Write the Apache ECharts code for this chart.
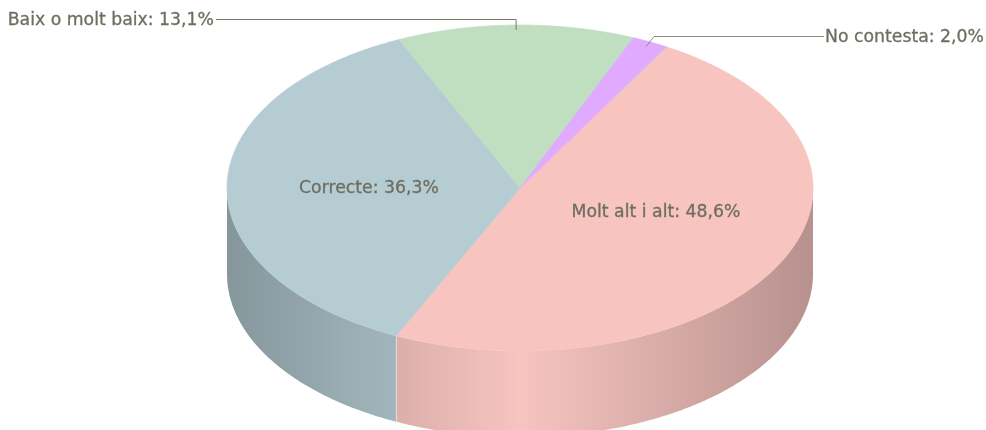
<!DOCTYPE html>
<html lang="ca">
<head>
    <meta charset="UTF-8">
    <title>Pastis 3D</title>
    <script src="https://cdn.jsdelivr.net/npm/echarts@6/dist/echarts.min.js"></script>
    <style>
        html, body { margin: 0; padding: 0; background: #fff; overflow: hidden; }
    </style>
</head>
<body>
<div id="main" style="width: 986px;height:430px;"></div>
<script type="text/javascript">
    // dades, en l'ordre de dibuix (sentit horari des de startAngle)
    var categories = ['Molt alt i alt', 'Correcte', 'Baix o molt baix', 'No contesta'];
    var values = [48.6, 36.3, 13.1, 2.0];

    // estil
    var topColors = ['#f7c4c0', '#b5ccd3', '#c0dec0', '#dfaaff'];
    var textColor = '#6e6e60';
    var lineColors = [null, null, '#7a7a6c', '#8c8c82'];

    // geometria del pastis
    var cx = 520, cy = 188, rx = 293, ry = 163, depth = 86;
    var startAngle = 30;
    var total = values.reduce(function (a, b) { return a + b; }, 0);

    // posicio de les etiquetes (x, y, alineacio) i colze de la linia guia
    var labelPos = [
        {x: 656, y: 213, align: 'center'},
        {x: 369, y: 189, align: 'center'},
        {x: 214, y: 21, align: 'right', end: [216, 19.5], elbowY: 19.5},
        {x: 825, y: 38, align: 'left', end: [824, 36.5], elbow: [654, 36.5]}
    ];

    function pt(deg, r, dy) {
        var a = deg * Math.PI / 180;
        return [cx + rx * r * Math.sin(a), cy - ry * r * Math.cos(a) + (dy || 0)];
    }

    function arc(from, to, dy) {
        var pts = [];
        var n = Math.max(2, Math.ceil(Math.abs(to - from) * 2));
        for (var i = 0; i <= n; i++) {
            pts.push(pt(from + (to - from) * i / n, 1, dy));
        }
        return pts;
    }

    function shade(hex, k) {
        var n = parseInt(hex.slice(1), 16);
        var r = Math.round((n >> 16 & 255) * k);
        var g = Math.round((n >> 8 & 255) * k);
        var b = Math.round((n & 255) * k);
        return 'rgb(' + r + ',' + g + ',' + b + ')';
    }

    function sideGradient(color) {
        return new echarts.graphic.LinearGradient(cx - rx, 0, cx + rx, 0, [
            {offset: 0, color: shade(color, 0.74)},
            {offset: 0.5, color: color},
            {offset: 1, color: shade(color, 0.74)}
        ], true);
    }

    function renderItem(params, api) {
        var i = params.dataIndex;
        var before = 0;
        for (var k = 0; k < i; k++) {
            before += values[k];
        }
        var a1 = startAngle + before / total * 360;
        var a2 = a1 + api.value(0) / total * 360;
        var mid = (a1 + a2) / 2;
        var children = [];

        // paret lateral: nomes la part frontal (90-270 graus)
        var s1 = Math.max(a1, 90), s2 = Math.min(a2, 270);
        if (s2 > s1) {
            children.push({
                type: 'polygon',
                z2: 1,
                shape: {points: arc(s1, s2, 0).concat(arc(s2, s1, depth))},
                style: {fill: sideGradient(topColors[i])}
            });
            if (a2 < 270) {
                var seamTop = pt(a2, 1, 0);
                children.push({
                    type: 'line',
                    z2: 2,
                    shape: {x1: seamTop[0], y1: seamTop[1], x2: seamTop[0], y2: seamTop[1] + depth},
                    style: {stroke: 'rgba(255,255,255,0.45)', lineWidth: 1}
                });
            }
        }

        // cara superior
        children.push({
            type: 'polygon',
            z2: 3,
            shape: {points: [[cx, cy]].concat(arc(a1, a2, 0))},
            style: {fill: topColors[i], stroke: topColors[i], lineWidth: 0.6}
        });

        // linia guia
        var pos = labelPos[i];
        if (pos.end) {
            var anchor = pt(mid, 0.97, 0);
            var elbow = pos.elbow || [anchor[0], pos.elbowY];
            children.push({
                type: 'polyline',
                z2: 4,
                shape: {points: [pos.end, elbow, anchor]},
                style: {fill: null, stroke: lineColors[i], lineWidth: 1}
            });
        }

        // etiqueta
        children.push({
            type: 'text',
            z2: 5,
            style: {
                x: pos.x,
                y: pos.y,
                text: categories[i] + ': ' + values[i].toFixed(1).replace('.', ',') + '%',
                fill: textColor,
                stroke: textColor,
                lineWidth: 0.3,
                font: '17.3px "DejaVu Sans"',
                textAlign: pos.align,
                textVerticalAlign: 'middle'
            }
        });

        return {type: 'group', children: children};
    }

    var myChart = echarts.init(document.getElementById('main'), null, {renderer: 'canvas'});
    var option = {
        animation: false,
        backgroundColor: '#fff',
        series: [{
            type: 'custom',
            coordinateSystem: 'none',
            silent: true,
            clip: false,
            renderItem: renderItem,
            data: values.map(function (v) { return [v]; })
        }]
    };
    myChart.setOption(option);
</script>
</body>
</html>
